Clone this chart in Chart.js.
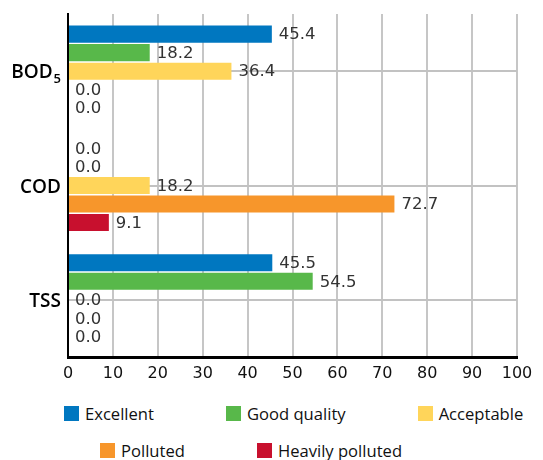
<!DOCTYPE html>
<html lang="en">
<head>
    <meta charset="UTF-8">
    <title>Water quality by parameter</title>
    <style>
        body {
            margin: 0;
            background-color: #fff;
            font-family: "Open Sans", "Noto Sans", sans-serif;
        }
        .wrap {
            position: relative;
            width: 543px;
            height: 460px;
            overflow: hidden;
        }
        .legend {
            position: absolute;
            left: 0;
            top: 395px;
            width: 543px;
        }
        .legend-row {
            display: flex;
            gap: 72px;
            height: 37px;
            align-items: center;
            white-space: nowrap;
        }
        .legend-item {
            display: flex;
            align-items: center;
            font-size: 16.6px;
            line-height: 18px;
            font-weight: 500;
            color: #111;
        }
        .legend-box {
            width: 15px;
            height: 15px;
            margin-right: 6px;
        }
    </style>
    <script src="https://cdn.jsdelivr.net/npm/chart.js"></script>
</head>
<body>
    <div class="wrap">
        <canvas id="qualityChart" width="543" height="395"></canvas>
        <div class="legend" id="legend"></div>
    </div>

    <script>
        const categories = ['BOD', 'COD', 'TSS'];
        const subscripts = ['5', '', ''];
        const seriesNames = ['Excellent', 'Good quality', 'Acceptable', 'Polluted', 'Heavily polluted'];
        const seriesColors = ['#0077c0', '#58b84a', '#ffd55a', '#f7962b', '#c8102e'];

        const excellent = [45.4, 0.0, 45.5];
        const goodQuality = [18.2, 0.0, 54.5];
        const acceptable = [36.4, 18.2, 0.0];
        const polluted = [0.0, 72.7, 0.0];
        const heavilyPolluted = [0.0, 9.1, 0.0];

        const xTicks = [0, 10, 20, 30, 40, 50, 60, 70, 80, 90, 100];

        const seriesValues = [excellent, goodQuality, acceptable, polluted, heavilyPolluted];

        // value labels at the end of each bar
        const valueLabels = {
            id: 'valueLabels',
            afterDatasetsDraw(chart) {
                const ctx = chart.ctx;
                ctx.save();
                ctx.font = '16.5px "DejaVu Sans"';
                ctx.fillStyle = '#333';
                ctx.textAlign = 'left';
                ctx.textBaseline = 'middle';
                chart.data.datasets.forEach((ds, i) => {
                    chart.getDatasetMeta(i).data.forEach((bar, j) => {
                        ctx.fillText(ds.data[j].toFixed(1), bar.x + 7, bar.y + 1);
                    });
                });
                ctx.restore();
            }
        };

        // category names drawn by hand so BOD can get its subscript 5
        const categoryLabels = {
            id: 'categoryLabels',
            afterDraw(chart) {
                const ctx = chart.ctx;
                const yScale = chart.scales.y;
                const right = yScale.right - 7;
                ctx.save();
                ctx.fillStyle = '#000';
                ctx.textBaseline = 'alphabetic';
                ctx.textAlign = 'right';
                categories.forEach((name, i) => {
                    const y = yScale.getPixelForTick(i);
                    let x = right;
                    if (subscripts[i]) {
                        ctx.font = '600 13px "Open Sans"';
                        ctx.fillText(subscripts[i], x, y + 12);
                        x -= ctx.measureText(subscripts[i]).width + 1;
                    }
                    ctx.font = '600 19px "Open Sans"';
                    ctx.fillText(name, x, y + 7);
                });
                ctx.restore();
            }
        };

        const ctx = document.getElementById('qualityChart').getContext('2d');
        const qualityChart = new Chart(ctx, {
            type: 'bar',
            data: {
                labels: categories,
                datasets: seriesNames.map((name, i) => ({
                    label: name,
                    data: seriesValues[i],
                    backgroundColor: seriesColors[i],
                    categoryPercentage: 0.81,
                    barPercentage: 0.92
                }))
            },
            options: {
                indexAxis: 'y',
                responsive: false,
                animation: false,
                layout: {
                    padding: { top: 14, right: 26, left: 0, bottom: 0 }
                },
                plugins: {
                    legend: { display: false },
                    tooltip: { enabled: false }
                },
                scales: {
                    x: {
                        min: 0,
                        max: 100,
                        afterBuildTicks: (scale) => {
                            scale.ticks = xTicks.map(v => ({ value: v }));
                        },
                        grid: {
                            color: '#c6c6c6',
                            lineWidth: 2,
                            drawTicks: false
                        },
                        border: { color: '#000', width: 3 },
                        ticks: {
                            padding: 7,
                            color: '#111',
                            font: { family: 'DejaVu Sans', size: 16 }
                        },
                        afterFit: (scale) => { scale.height = 38; }
                    },
                    y: {
                        grid: {
                            offset: false,
                            color: '#c2c2c2',
                            lineWidth: 2,
                            drawTicks: false
                        },
                        border: { color: '#000', width: 2 },
                        ticks: { display: false },
                        afterFit: (scale) => { scale.width = 68; }
                    }
                }
            },
            plugins: [valueLabels, categoryLabels]
        });

        // html legend in two rows like the original
        const legendRows = [[0, 1, 2], [3, 4]];
        const rowIndent = [64, 100];
        const legendEl = document.getElementById('legend');
        legendRows.forEach((row, r) => {
            const rowEl = document.createElement('div');
            rowEl.className = 'legend-row';
            rowEl.style.paddingLeft = rowIndent[r] + 'px';
            row.forEach(i => {
                const item = document.createElement('div');
                item.className = 'legend-item';
                const box = document.createElement('span');
                box.className = 'legend-box';
                box.style.backgroundColor = seriesColors[i];
                const txt = document.createElement('span');
                txt.textContent = seriesNames[i];
                item.appendChild(box);
                item.appendChild(txt);
                rowEl.appendChild(item);
            });
            legendEl.appendChild(rowEl);
        });
    </script>
</body>
</html>
